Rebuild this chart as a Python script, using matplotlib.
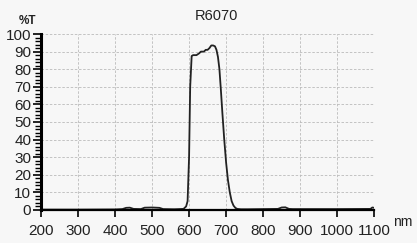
import matplotlib
matplotlib.use("Agg")
import matplotlib.pyplot as plt
from matplotlib.ticker import MultipleLocator

plt.rcParams["font.family"] = ["Liberation Sans", "DejaVu Sans"]

title = "R6070"
wavelength = [200, 300, 400, 420, 430, 440, 450, 470, 480, 500, 520, 530, 560, 585, 592, 596, 600, 603,
              607, 611, 620, 627, 632, 640, 645, 650, 655, 660, 665, 670, 674, 678, 682, 686,
              690, 695, 700, 705, 710, 715, 720, 725, 730, 740, 760, 800, 840, 850, 860, 870, 880,
              900, 1000, 1090, 1095, 1100]
transmission = [0.2, 0.2, 0.3, 0.5, 1.2, 1.3, 0.6, 0.5, 1.3, 1.4, 1.2, 0.5, 0.4, 0.6, 2.0, 5.0, 30, 70,
                87.5, 88, 88, 89, 90, 90, 91, 91, 92, 93.5, 93.5, 93, 91, 87, 80, 68,
                55, 40, 27, 17, 10, 5, 2.5, 1.2, 0.6, 0.4, 0.4, 0.5, 0.6, 1.4, 1.5, 0.6, 0.5,
                0.5, 0.5, 0.6, 1.4, 1.2]

x_ticks = [200, 300, 400, 500, 600, 700, 800, 900, 1000, 1100]
y_ticks = [0, 10, 20, 30, 40, 50, 60, 70, 80, 90, 100]

fig = plt.figure(figsize=(4.17, 2.43), dpi=100, facecolor="#f7f7f7")
ax = fig.add_axes([0.0983, 0.136, 0.799, 0.724])
ax.set_facecolor("#f7f7f7")
ax.plot(wavelength, transmission, color="#222222", lw=1.3)
ax.set_xlim(200, 1100)
ax.set_ylim(0, 100)
ax.set_xticks(x_ticks)
ax.set_yticks(y_ticks)
ax.yaxis.set_minor_locator(MultipleLocator(2))
ax.grid(True, which="major", color="#bbbbbb", ls=(0, (3, 2)), lw=0.6)
for s in ["top", "right"]:
    ax.spines[s].set_visible(False)
ax.spines["left"].set_linewidth(2.2)
ax.spines["bottom"].set_linewidth(1.6)
ax.tick_params(axis="y", which="major", length=6, width=1.2, labelsize=11, pad=1)
ax.tick_params(axis="y", which="minor", length=4, width=1.0)
ax.tick_params(axis="x", which="major", length=5, width=1.2, labelsize=11, pad=5)
for lab in ax.get_xticklabels() + ax.get_yticklabels():
    lab.set_color("#222222")
fig.text(0.518, 0.935, title, ha="center", va="center", fontsize=10.5, color="#222222")
fig.text(0.065, 0.915, "%T", ha="center", va="center", fontsize=8.5, fontweight="bold", color="#222222")
fig.text(0.965, 0.085, "nm", ha="center", va="center", fontsize=10, color="#222222")
fig.savefig("out.png", dpi=100, facecolor=fig.get_facecolor())
